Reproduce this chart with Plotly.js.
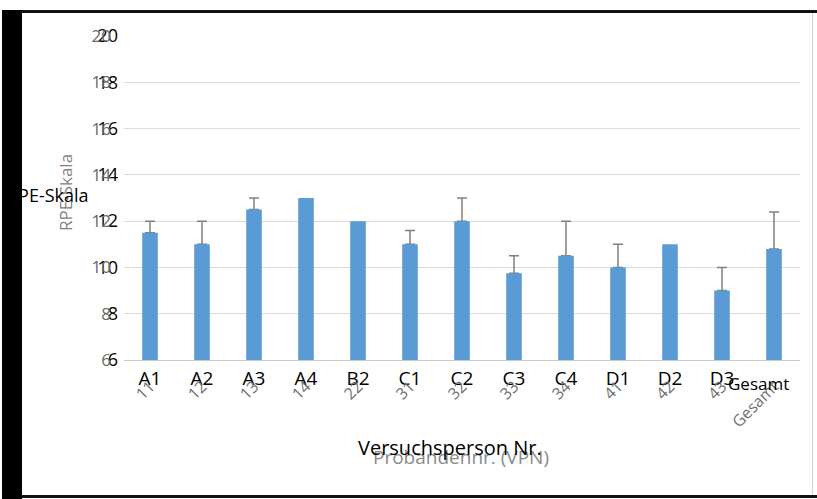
<!DOCTYPE html>
<html>
<head>
<meta charset="utf-8">
<script src="https://cdn.plot.ly/plotly-3.0.1.min.js"></script>
<style>
  html, body { margin: 0; padding: 0; background: #fff; }
  #chart { width: 817px; height: 499px; position: absolute; left: 0; top: 0; }
  .frame { position: absolute; z-index: 10; pointer-events: none; }
</style>
</head>
<body>
<div id="chart"></div>
<div class="frame" style="left:2px;top:10px;width:20px;height:489px;background:#000;"></div>
<div class="frame" style="left:22px;top:10px;width:795px;height:3px;background:#111;"></div>
<div class="frame" style="left:22px;top:495px;width:795px;height:3px;background:#111;"></div>
<div class="frame" style="left:812px;top:13px;width:1px;height:482px;background:#d0d0d0;"></div>
<script>
// ---- data ----
const categories = ["A1", "A2", "A3", "A4", "B2", "C1", "C2", "C3", "C4", "D1", "D2", "D3", "Gesamt"];
const vpnLabels = ["11", "12", "13", "14", "22", "31", "32", "33", "34", "41", "42", "43", "Gesamt"];
const rpeMean = [11.5, 11.0, 12.5, 13.0, 12.0, 11.0, 12.0, 9.75, 10.5, 10.0, 11.0, 9.0, 10.8];
const rpeErrPlus = [0.5, 1.0, 0.5, 0, 0, 0.6, 1.0, 0.75, 1.5, 1.0, 0, 1.0, 1.6];
const yTicks = [6, 8, 10, 12, 14, 16, 18, 20];

const W = 817, H = 499;
const L = 124, R = 17, T = 36, B = 139;
const pw = W - L - R, ph = H - T - B;
const px = x => (x - L) / pw;
const py = y => (H - B - y) / ph;

const font = "Open Sans, Noto Sans, sans-serif";

const traces = [
  // error bars (bars themselves transparent, drawn underneath)
  {
    type: "bar",
    x: categories,
    y: rpeMean,
    xaxis: "x", yaxis: "y",
    marker: { color: "rgba(0,0,0,0)" },
    error_y: { type: "data", symmetric: false,
               array: rpeErrPlus.map(e => (e > 0 ? e : NaN)),
               arrayminus: rpeErrPlus.map(e => (e > 0 ? 0 : NaN)),
               color: "#808080", thickness: 1.5, width: 5 },
    hoverinfo: "skip"
  },
  // visible bars, on the overlaid subplot (carries the VPN number labels)
  {
    type: "bar",
    x: vpnLabels,
    y: rpeMean,
    xaxis: "x2", yaxis: "y2",
    marker: { color: "#5b9bd5" },
    hoverinfo: "skip"
  }
];

const layout = {
  width: W, height: H,
  margin: { l: L, r: R, t: T, b: B, pad: 0 },
  paper_bgcolor: "#fff",
  plot_bgcolor: "#fff",
  showlegend: false,
  bargap: 0.7,
  font: { family: font, color: "#000" },
  xaxis: {
    type: "category",
    tickvals: categories.slice(0, 12),
    ticktext: categories.slice(0, 12),
    tickangle: 0,
    ticks: "",
    ticklabelstandoff: 1,
    tickfont: { size: 19, color: "#000", family: font },
    showline: true, linecolor: "#c8c8c8", linewidth: 1,
    showgrid: false, zeroline: false,
    range: [-0.5, 12.5],
    fixedrange: true
  },
  xaxis2: {
    type: "category",
    overlaying: "x",
    side: "bottom",
    anchor: "y2",
    tickangle: -45,
    ticks: "",
    ticklabelstandoff: 13,
    tickfont: { size: 16, color: "#707070", family: font },
    showline: false, showgrid: false, zeroline: false,
    range: [-0.5, 12.5],
    fixedrange: true
  },
  yaxis: {
    range: [6, 20],
    tickvals: yTicks,
    ticktext: yTicks.map(String),
    ticks: "",
    ticklabelstandoff: 5,
    tickfont: { size: 18, color: "#000", family: font },
    showgrid: true, gridcolor: "#dcdcdc", gridwidth: 1,
    zeroline: false, showline: false,
    fixedrange: true
  },
  yaxis2: {
    overlaying: "y",
    side: "left",
    anchor: "x2",
    range: [6, 20],
    tickvals: yTicks,
    ticktext: yTicks.map(String),
    ticks: "",
    ticklabelstandoff: 12,
    tickfont: { size: 17, color: "#6a6a6a", family: font },
    showgrid: false, zeroline: false, showline: false,
    fixedrange: true
  },
  annotations: [
    { xref: "x", yref: "paper", x: categories[12], y: py(383), xshift: -16,
      text: categories[12], showarrow: false, xanchor: "center", yanchor: "middle",
      font: { size: 17, color: "#000", family: font } },
    { xref: "paper", yref: "paper", x: px(65), y: py(193), textangle: -90,
      text: "RPE-Skala", showarrow: false, xanchor: "center", yanchor: "middle",
      font: { size: 17, color: "#808080", family: font } },
    { xref: "paper", yref: "paper", x: px(91), y: py(195),
      text: "RPE-Skala", showarrow: false, xanchor: "right", yanchor: "middle",
      font: { size: 18, color: "#000", family: font } },
    { xref: "paper", yref: "paper", x: px(461), y: py(457),
      text: "Probandennr. (VPN)", showarrow: false, xanchor: "center", yanchor: "middle",
      font: { size: 19, color: "#8a8a8a", family: font } },
    { xref: "paper", yref: "paper", x: px(450), y: py(448),
      text: "Versuchsperson Nr.", showarrow: false, xanchor: "center", yanchor: "middle",
      font: { size: 20, color: "#000", family: font } }
  ]
};

Plotly.newPlot("chart", traces, layout, { staticPlot: true, displayModeBar: false });
</script>
</body>
</html>
